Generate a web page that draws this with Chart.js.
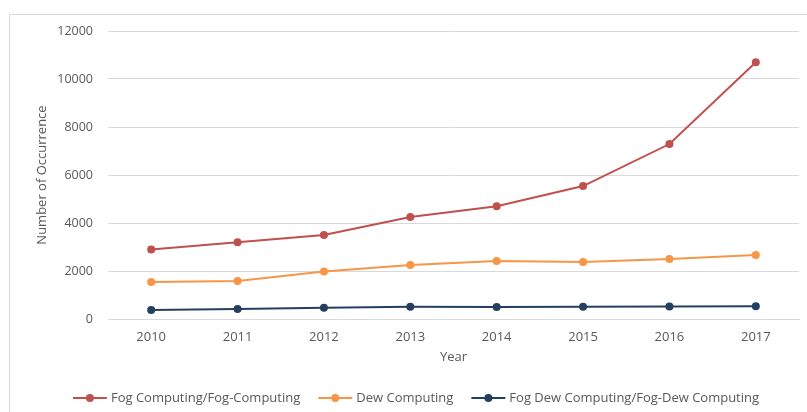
<!DOCTYPE html>
<html>
<head>
<meta charset="utf-8">
<script src="https://cdn.jsdelivr.net/npm/chart.js@4.4.1/dist/chart.umd.min.js"></script>
<style>
    html, body { margin: 0; padding: 0; background: #ffffff; }
    #frame {
        position: absolute; left: 9px; top: 14px; width: 820px; height: 420px;
        border: 1px solid #d9d9d9; box-sizing: border-box;
    }
    #wrap { position: absolute; left: 0; top: 0; width: 807px; height: 412px; }
</style>
</head>
<body>
<div id="frame"></div>
<div id="wrap"><canvas id="chart" width="807" height="412"></canvas></div>
<script>
// Données
const years = ['2010', '2011', '2012', '2013', '2014', '2015', '2016', '2017'];
const fogComputing = [2900, 3200, 3500, 4250, 4700, 5540, 7290, 10700];
const dewComputing = [1540, 1580, 1980, 2250, 2420, 2375, 2500, 2670];
const fogDewComputing = [375, 420, 470, 510, 500, 510, 520, 530];
const seriesNames = ['Fog Computing/Fog-Computing', 'Dew Computing', 'Fog Dew Computing/Fog-Dew Computing'];
const yTicks = [0, 2000, 4000, 6000, 8000, 10000, 12000];

const textColor = '#595959';
const fontFamily = "'Open Sans', 'Liberation Sans', sans-serif";

function makeSeries(label, data, color) {
    return {
        label: label,
        data: data,
        borderColor: color,
        backgroundColor: color,
        borderWidth: 2,
        pointRadius: 4,
        pointHoverRadius: 4,
        pointBorderWidth: 0,
        tension: 0
    };
}

// Légende façon Excel : trait + point, dessinée sous le graphique
const excelLegend = {
    id: 'excelLegend',
    afterDraw(chart) {
        const ctx = chart.ctx;
        const y = 398;
        const lineLen = 34;
        const gapText = 4;
        const gapItem = 18;
        ctx.save();
        ctx.font = '13px ' + fontFamily;
        const items = chart.data.datasets.map(ds => ({
            label: ds.label,
            color: ds.borderColor,
            w: lineLen + gapText + ctx.measureText(ds.label).width
        }));
        const total = items.reduce((s, it) => s + it.w, 0) + gapItem * (items.length - 1);
        let x = 416 - total / 2;
        items.forEach(it => {
            ctx.strokeStyle = it.color;
            ctx.lineWidth = 2;
            ctx.beginPath();
            ctx.moveTo(x, y);
            ctx.lineTo(x + lineLen, y);
            ctx.stroke();
            ctx.fillStyle = it.color;
            ctx.beginPath();
            ctx.arc(x + lineLen / 2, y, 4, 0, Math.PI * 2);
            ctx.fill();
            ctx.fillStyle = textColor;
            ctx.textBaseline = 'middle';
            ctx.textAlign = 'left';
            ctx.fillText(it.label, x + lineLen + gapText, y);
            x += it.w + gapItem;
        });
        ctx.restore();
    }
};

const ctx = document.getElementById('chart').getContext('2d');
new Chart(ctx, {
    type: 'line',
    data: {
        labels: years,
        datasets: [
            makeSeries(seriesNames[0], fogComputing, '#c0504d'),
            makeSeries(seriesNames[1], dewComputing, '#f79646'),
            makeSeries(seriesNames[2], fogDewComputing, '#243f60')
        ]
    },
    options: {
        responsive: false,
        animation: false,
        devicePixelRatio: 1,
        layout: { padding: { left: 0, right: 8, top: 31, bottom: 30 } },
        plugins: {
            legend: { display: false },
            tooltip: { enabled: false }
        },
        scales: {
            x: {
                offset: true,
                grid: { display: false, drawTicks: false },
                border: { display: true, color: '#d9d9d9', width: 1 },
                ticks: { color: textColor, font: { family: fontFamily, size: 13 }, padding: 10, maxRotation: 0 },
                title: {
                    display: true, text: 'Year', color: textColor,
                    font: { family: fontFamily, size: 13 }, padding: { top: 0, bottom: 17 }
                },
                afterFit(scale) { scale.height = 63; }
            },
            y: {
                min: 0,
                max: 12000,
                grid: { color: '#d9d9d9', drawTicks: false },
                border: { display: false },
                afterBuildTicks(scale) { scale.ticks = yTicks.map(v => ({ value: v })); },
                ticks: {
                    color: textColor, font: { family: fontFamily, size: 12.5 }, padding: 15,
                    callback: value => String(value)
                },
                title: {
                    display: true, text: 'Number of Occurrence', color: textColor,
                    font: { family: fontFamily, size: 13 }, padding: { top: 34, bottom: 0 }
                },
                afterFit(scale) { scale.width = 108; }
            }
        }
    },
    plugins: [excelLegend]
});
</script>
</body>
</html>
